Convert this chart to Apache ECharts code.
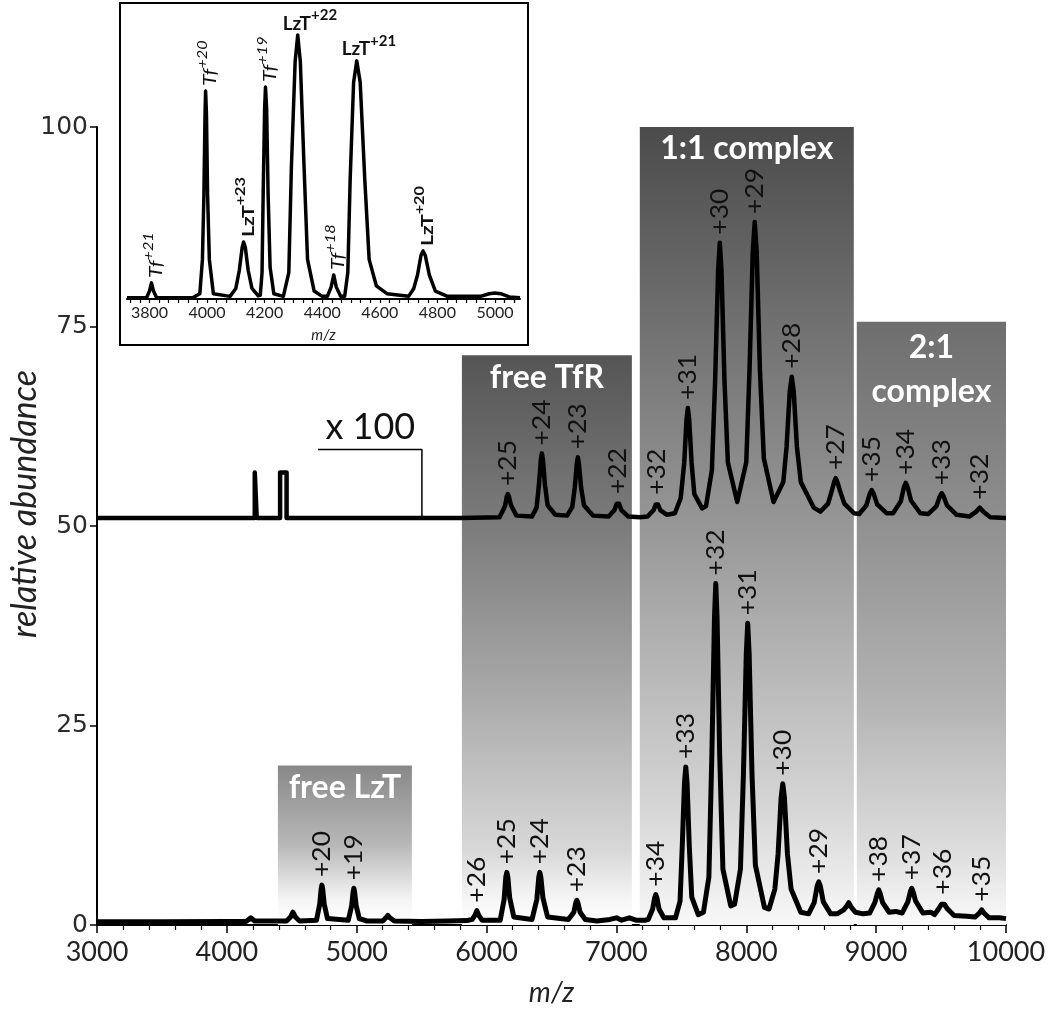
<!DOCTYPE html>
<html><head><meta charset="utf-8">
<script src="https://cdn.jsdelivr.net/npm/echarts@6/dist/echarts.min.js"></script>
<style>html,body{margin:0;padding:0;background:#fff}#c{width:1050px;height:1021px}</style>
</head><body><div id="c"></div>
<script>
// ---------- DATA ----------
const bottomTrace = [
[3000,0.4],[3500,0.4],[4000,0.45],[4150,0.45],[4185,0.9],[4215,0.5],[4460,0.5],[4490,1.0],[4509,1.6],[4528,1.0],[4560,0.5],
[4690,0.6],[4715,2.6],[4726,4.5],[4732,5.0],[4738,4.5],[4750,2.6],[4775,0.8],
[4935,0.6],[4961,2.4],[4972,4.1],[4978,4.6],[4984,4.1],[4996,2.4],[5020,0.8],
[5080,0.5],[5200,0.5],[5225,0.9],[5240,1.2],[5255,0.9],[5290,0.5],[5500,0.45],[5700,0.5],[5850,0.55],
[5890,0.7],[5910,1.2],[5925,1.8],[5940,1.2],[5965,0.6],
[6105,0.6],[6135,3.2],[6148,6.0],[6156,6.6],[6164,6.0],[6178,3.4],[6210,1.0],
[6350,0.7],[6387,3.2],[6402,6.0],[6410,6.6],[6418,6.0],[6434,3.4],[6470,1.0],
[6630,0.7],[6672,1.6],[6687,2.8],[6695,3.1],[6703,2.8],[6720,1.6],[6760,0.7],
[6850,0.5],[6950,0.7],[7000,0.9],[7040,0.6],[7100,0.9],[7150,0.6],[7220,0.6],
[7245,0.7],[7279,2.0],[7294,3.4],[7303,3.8],[7312,3.4],[7328,2.0],[7365,0.9],
[7455,0.9],[7490,3.0],[7507,9.9],[7524,17.8],[7534,19.8],[7544,17.8],[7561,9.9],[7580,3.5],[7630,1.3],
[7670,1.6],[7712,6.0],[7735,21.4],[7755,38.5],[7765,42.8],[7775,38.5],[7795,21.4],[7820,7.0],[7880,2.4],
[7910,2.6],[7955,7.0],[7978,18.9],[8000,34.0],[8011,37.8],[8022,34.0],[8044,18.9],[8070,7.5],[8140,2.2],
[8175,2.0],[8220,4.5],[8245,8.9],[8268,15.9],[8281,17.7],[8294,15.9],[8317,8.9],[8345,4.5],[8420,1.6],
[8480,1.4],[8523,2.8],[8546,4.9],[8558,5.4],[8570,4.9],[8593,2.9],[8650,1.4],
[8700,1.4],[8750,1.9],[8775,2.4],[8789,2.8],[8805,2.3],[8840,1.6],[8900,1.4],
[8950,1.5],[8990,2.8],[9010,4.0],[9020,4.4],[9030,4.0],[9050,2.8],[9100,1.6],
[9150,1.7],[9200,1.5],[9244,2.9],[9264,4.2],[9274,4.6],[9284,4.2],[9304,3.0],[9360,1.5],
[9420,1.6],[9450,1.3],[9480,2.0],[9503,2.6],[9513,2.8],[9525,2.6],[9550,2.0],[9600,1.2],
[9700,1.1],[9760,1.0],[9795,1.5],[9813,1.9],[9830,1.5],[9870,0.9],[9950,0.9],[10000,0.8]
];

const topTrace = [
[3000,51],[4215,51],[4215,56.7],[4230,56.7],[4230,51],[4410,51],[4410,56.7],[4460,56.7],[4460,51],[5800,51],
[6100,51.1],[6142,52.5],[6156,53.7],[6164,54.0],[6172,53.7],[6188,52.6],[6230,51.3],
[6350,51.2],[6385,52.3],[6403,55.1],[6418,58.3],[6426,59.1],[6434,58.3],[6450,55.1],[6470,52.6],[6530,51.4],
[6620,51.3],[6660,52.4],[6679,54.8],[6695,57.8],[6703,58.6],[6711,57.8],[6728,54.8],[6750,52.6],[6820,51.3],
[6940,51.2],[6985,52.0],[7002,52.8],[7011,53.0],[7020,52.8],[7038,52.0],[7090,51.2],[7180,51.1],
[7240,51.2],[7287,52.0],[7302,52.7],[7311,52.9],[7320,52.7],[7337,52.0],[7390,51.4],
[7450,51.6],[7495,53.5],[7522,57.9],[7540,63.4],[7550,64.8],[7560,63.4],[7579,57.9],[7600,54.0],[7660,52.2],
[7690,52.5],[7735,57.0],[7760,68.2],[7783,82.0],[7796,85.5],[7809,82.0],[7832,68.2],[7858,58.0],[7930,53.0],
[7940,53.0],[8000,58.0],[8025,69.6],[8050,84.4],[8065,88.1],[8080,84.4],[8105,69.6],[8135,58.5],[8210,53.0],
[8220,52.8],[8285,55.5],[8310,59.9],[8335,66.9],[8350,68.7],[8365,66.9],[8390,59.9],[8420,55.5],[8520,52.3],
[8570,51.8],[8630,52.8],[8660,54.5],[8678,55.6],[8689,56.0],[8700,55.6],[8720,54.5],[8755,52.8],[8830,51.6],
[8870,51.5],[8925,52.6],[8950,54.0],[8966,54.5],[8982,54.0],[9008,52.7],[9080,51.6],
[9130,51.6],[9190,53.1],[9214,54.9],[9228,55.4],[9242,54.9],[9268,53.2],[9340,51.6],
[9400,51.5],[9465,52.5],[9490,53.7],[9505,54.1],[9520,53.7],[9545,52.6],[9620,51.4],
[9720,51.2],[9770,51.8],[9798,52.3],[9826,51.8],[9880,51.1],[10000,51.0]
];

const bracket = [[4701,59.6],[5502,59.6],[5502,51]];
const scaleNote = [[5105,59.6,'x 100']];

const bottomLabels = [[4732,5.0,'+20'],[4978,4.6,'+19'],[5925,1.8,'+26'],[6156,6.6,'+25'],[6410,6.6,'+24'],[6695,3.1,'+23'],
[7303,3.8,'+34'],[7534,19.8,'+33'],[7765,42.8,'+32'],[8011,37.8,'+31'],[8281,17.7,'+30'],[8558,5.4,'+29'],
[9020,4.4,'+38'],[9274,4.6,'+37'],[9513,2.8,'+36'],[9813,1.9,'+35']];
const topLabels = [[6164,54.0,'+25'],[6426,59.1,'+24'],[6703,58.6,'+23'],[7011,53.0,'+22'],[7311,52.9,'+32'],
[7550,64.8,'+31'],[7796,85.5,'+30'],[8065,88.1,'+29'],[8350,68.7,'+28'],[8689,56.0,'+27'],
[8966,54.5,'+35'],[9228,55.4,'+34'],[9505,54.1,'+33'],[9798,52.3,'+32']];

// regions: [name, mzFrom, mzTo, top]
const regions = [['free LzT',4393,5425,20.0],['free TfR',5810,7119,71.4],['1:1 complex',7180,8828,100],['2:1\ncomplex',8851,10000,75.6]];

const insetTrace = [
[3722,0.5],[3790,0.5],[3800,3],[3807,6.1],[3814,3],[3825,0.5],
[3950,0.5],[3975,2],[3984,15],[3989,39],[3993,70],[3995,78.8],[3998,70],[4002,39],[4008,15],[4022,2],
[4080,1],[4100,4],[4112,10.8],[4122,19.5],[4127,21.6],[4133,19.5],[4143,10.8],[4156,4],[4178,1.2],
[4185,1.5],[4191,10],[4195,40],[4200,72],[4203,80.3],[4207,72],[4212,40],[4219,12],[4232,2],
[4265,1],[4284,10],[4293,50],[4306,90],[4315,100],[4324,90],[4337,50],[4349,15],[4372,3],[4400,1],
[4418,1],[4431,4.5],[4440,9.1],[4449,4.5],[4464,1],
[4478,1],[4489,10],[4497,45],[4509,82],[4520,90.2],[4532,82],[4548,45],[4563,15],[4588,5],[4625,2],[4700,1],
[4718,4],[4731,9.1],[4743,16.5],[4750,18.2],[4758,16.5],[4772,9.1],[4793,3],[4835,1],
[4950,1],[4980,2],[5000,2.3],[5020,2],[5050,0.8],[5087,0.5]
];
const insetTickLabels = [3800,4000,4200,4400,4600,4800,5000];
const insetLabels = [[3807,6.1,'Tf','+21','v'],[3995,78.8,'Tf','+20','v'],[4127,21.6,'LzT','+23','v'],[4203,80.3,'Tf','+19','v'],
[4315,100,'LzT','+22','h'],[4440,9.1,'Tf','+18','v'],[4520,90.2,'LzT','+21','h'],[4750,18.2,'LzT','+20','v']];

// ---------- STYLE / BUILD ----------
const insetTicks = [];
for (let i = 0; i < insetTickLabels.length; i++) {
  for (let k = -3; k < 3; k++) { insetTicks.push(insetTickLabels[i] + k * 200 / 6); }
}
insetTicks.push(5033.3, 5066.7);

const grads = {
  'free LzT': [[0,'#888'],[0.5,'#b8b8b8'],[0.85,'#f6f6f6'],[1,'#fff']],
  'free TfR': [[0,'#555'],[0.33,'#808080'],[0.6,'#aaa'],[0.87,'#d8d8d8'],[0.95,'#f4f4f4'],[1,'#fff']],
  '1:1 complex': [[0,'#4b4b4b'],[0.5,'#979797'],[0.85,'#d5d5d5'],[1,'#f8f8f8']],
  '2:1\ncomplex': [[0,'#6e6e6e'],[0.3,'#8c8c8c'],[0.63,'#b3b3b3'],[0.88,'#dedede'],[1,'#fafafa']]
};
const areaData = regions.map(r => [
  {name: r[0], xAxis: r[1], yAxis: r[3], itemStyle: {color: {type:'linear',x:0,y:0,x2:0,y2:1,
    colorStops: grads[r[0]].map(s => ({offset:s[0], color:s[1]}))}},
   label: {lineHeight: r[0].indexOf('\n') >= 0 ? 44 : 36}},
  {xAxis: r[2], yAxis: 0}
]);

function peakLabelRender(arr, gap) {
  return function (params, api) {
    const d = arr[params.dataIndex];
    const p = api.coord([d[0], d[1]]);
    return {type:'text', x: p[0], y: p[1] - gap, rotation: Math.PI/2, scaleX: 1.06,
      style: {text: d[2], fontFamily: 'Lato', fontSize: 25, fill: '#111', align: 'left', verticalAlign: 'middle'}};
  };
}

function insetLabelRender(params, api) {
  const d = insetLabels[params.dataIndex];
  const p = api.coord([d[0], d[1]]);
  const isTf = d[2] === 'Tf';
  const horiz = d[4] === 'h';
  const mainSize = horiz ? 19 : 17;
  const supSize = horiz ? 15 : 13;
  const rich = {
    n: {fontFamily:'Lato', fontSize: mainSize, fontStyle: isTf ? 'italic' : 'normal', fontWeight: isTf ? 'normal' : 'bold', fill:'#111', lineHeight: mainSize + 6, verticalAlign:'bottom'},
    s: {fontFamily:'Lato', fontSize: supSize, fontStyle: isTf ? 'italic' : 'normal', fontWeight: isTf ? 'normal' : 'bold', fill:'#111', lineHeight: supSize, verticalAlign:'top'}
  };
  const text = '{n|' + d[2] + '}{s|' + d[3] + '}';
  if (horiz) {
    return {type:'text', x: p[0] - 15, y: p[1] - 2,
      style: {text: text, rich: rich, align:'left', verticalAlign:'bottom'}};
  }
  return {type:'text', x: p[0] + 2, y: p[1] - 5, rotation: Math.PI/2, scaleX: 1.25,
    style: {text: text, rich: rich, align:'left', verticalAlign:'middle'}};
}

const plain = v => String(v);

const chart = echarts.init(document.getElementById('c'), null, {renderer:'canvas'});
chart.setOption({
  animation: false,
  backgroundColor: '#fff',
  graphic: [{type:'rect', shape:{x:120, y:3, width:408, height:342}, style:{fill:null, stroke:'#000', lineWidth:2}, z: 1}],
  grid: [
    {left: 97, right: 44, top: 127, bottom: 96, outerBoundsMode: 'none', containLabel: false},
    {left: 127, top: 35, width: 393, height: 264, outerBoundsMode: 'none', containLabel: false}
  ],
  xAxis: [
    {gridIndex:0, type:'value', min:3000, max:10000, interval:1000,
     axisLine:{show:true, onZero:false, lineStyle:{color:'#000', width:2}},
     axisTick:{show:true, length:8, lineStyle:{color:'#000', width:1.5}},
     minorTick:{show:true, splitNumber:5, length:5, lineStyle:{color:'#000', width:1.2}},
     splitLine:{show:false},
     axisLabel:{fontFamily:'Lato', fontSize:27, color:'#222', margin:14, formatter: plain},
     name:'m/z', nameLocation:'middle', nameGap:54, nameMoveOverlap:false,
     nameTextStyle:{fontFamily:'Lato', fontStyle:'italic', fontSize:28, color:'#222'}},
    {gridIndex:1, type:'value', min:3722, max:5087,
     axisLine:{show:true, onZero:false, lineStyle:{color:'#000', width:2}},
     axisTick:{show:true, customValues: insetTicks, length:4, lineStyle:{color:'#000', width:1.2}},
     axisLabel:{customValues: insetTickLabels, fontFamily:'Lato', fontSize:16, color:'#222', margin:6, formatter: plain},
     splitLine:{show:false},
     name:'m/z', nameLocation:'middle', nameGap:29, nameMoveOverlap:false,
     nameTextStyle:{fontFamily:'Lato', fontStyle:'italic', fontSize:15, color:'#222'}}
  ],
  yAxis: [
    {gridIndex:0, type:'value', min:0, max:100, interval:25,
     axisLine:{show:true, lineStyle:{color:'#000', width:2}},
     axisTick:{show:true, length:7, lineStyle:{color:'#000', width:1.5}},
     splitLine:{show:false},
     axisLabel:{fontFamily:'DejaVu Sans', fontSize:25, color:'#2b2b2b', margin:9},
     name:'relative abundance', nameLocation:'middle', nameGap:55, nameRotate:90, nameMoveOverlap:false,
     nameTextStyle:{fontFamily:'Lato', fontStyle:'italic', fontSize:34, color:'#222', padding:[0,0,0,44]}},
    {gridIndex:1, type:'value', min:0, max:100, show:false}
  ],
  series: [
    {type:'line', name:'bottom', xAxisIndex:0, yAxisIndex:0, data: bottomTrace, showSymbol:false, symbol:'none',
     lineStyle:{color:'#000', width:5, join:'round'}, z:3,
     markArea:{silent:true, z:1,
       label:{show:true, position:'insideTop', distance:4, color:'#fff', fontFamily:'Lato', fontWeight:'bold', fontSize:32},
       data: areaData}},
    {type:'line', name:'top', xAxisIndex:0, yAxisIndex:0, data: topTrace, showSymbol:false, symbol:'none',
     lineStyle:{color:'#000', width:4.5, join:'round'}, z:3},
    {type:'line', name:'bracket', xAxisIndex:0, yAxisIndex:0, data: bracket, showSymbol:false, symbol:'none',
     lineStyle:{color:'#000', width:1.5}, z:3},
    {type:'custom', name:'note', xAxisIndex:0, yAxisIndex:0, data: scaleNote.map(d => [d[0], d[1]]), clip:false, z:4,
     renderItem: function (params, api) {
       const d = scaleNote[params.dataIndex];
       const p = api.coord([d[0], d[1]]);
       return {type:'text', x:p[0], y:p[1] - 4, style:{text:d[2], fontFamily:'Lato', fontSize:36, fill:'#111', align:'center', verticalAlign:'bottom'}};
     }},
    {type:'custom', name:'bottomLabels', xAxisIndex:0, yAxisIndex:0, data: bottomLabels.map(d => [d[0], d[1]]), clip:false, z:4,
     renderItem: peakLabelRender(bottomLabels, 8)},
    {type:'custom', name:'topLabels', xAxisIndex:0, yAxisIndex:0, data: topLabels.map(d => [d[0], d[1]]), clip:false, z:4,
     renderItem: peakLabelRender(topLabels, 8)},
    {type:'line', name:'inset', xAxisIndex:1, yAxisIndex:1, data: insetTrace, showSymbol:false, symbol:'none',
     lineStyle:{color:'#000', width:3.5, join:'round'}, z:3, clip:false},
    {type:'custom', name:'insetLabels', xAxisIndex:1, yAxisIndex:1, data: insetLabels.map(d => [d[0], d[1]]), clip:false, z:4,
     renderItem: insetLabelRender}
  ]
});
</script></body></html>
